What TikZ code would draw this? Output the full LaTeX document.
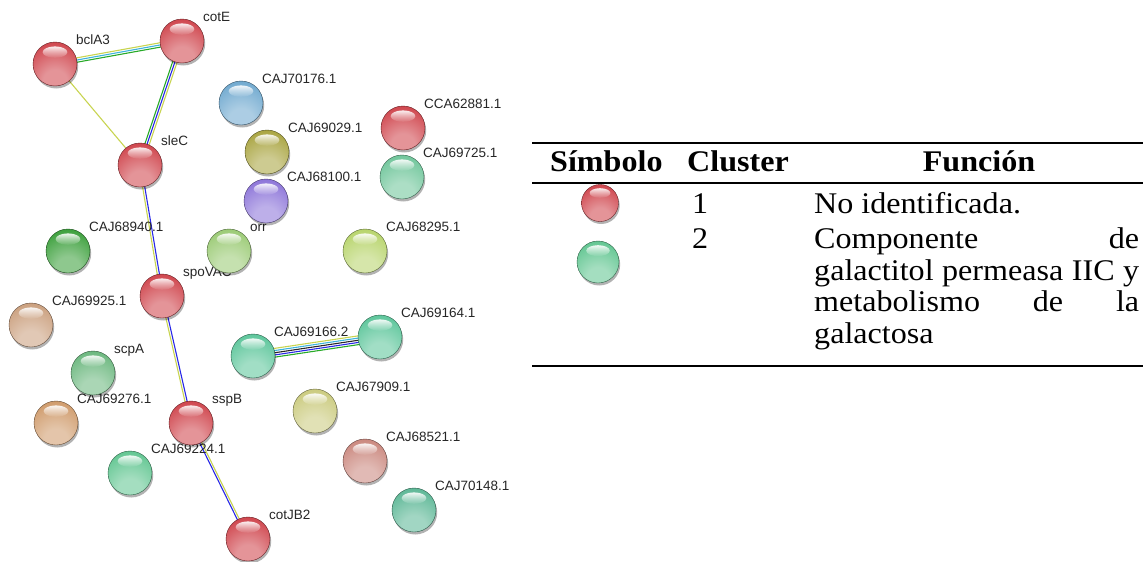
\documentclass[tikz,border=0pt]{standalone}
\usepackage{fontspec}
\setmainfont{Liberation Serif}
\newfontfamily\lblfont{Liberation Sans}
\usetikzlibrary{fadings}
\pgfdeclarelayer{bg}\pgfdeclarelayer{lab}
\pgfsetlayers{bg,lab,main}
\definecolor{cred}{RGB}{205,60,68}
\definecolor{cblue}{RGB}{105,165,205}
\definecolor{colive}{RGB}{165,160,55}
\definecolor{cmint}{RGB}{105,195,150}
\definecolor{cpurple}{RGB}{135,110,215}
\definecolor{cdkgreen}{RGB}{50,155,50}
\definecolor{cltgreen}{RGB}{150,200,110}
\definecolor{cygreen}{RGB}{180,210,100}
\definecolor{ctan}{RGB}{200,155,120}
\definecolor{cgreen}{RGB}{100,180,120}
\definecolor{cteal}{RGB}{85,195,150}
\definecolor{cpale}{RGB}{200,200,120}
\definecolor{corange}{RGB}{205,150,100}
\definecolor{cpink}{RGB}{200,130,120}
\definecolor{cteal2}{RGB}{90,195,140}
\definecolor{cteal3}{RGB}{85,180,145}
\definecolor{etm}{RGB}{200,212,80}
\definecolor{edb}{RGB}{60,180,220}
\definecolor{enb}{RGB}{40,170,40}
\definecolor{ebl}{RGB}{40,40,230}
\definecolor{ebk}{RGB}{40,40,40}
\colorlet{bhi}{white}\colorlet{bmid}{gray}\colorlet{blo}{black}
\pgfdeclareradialshading[bhi,bmid,blo]{sball}{\pgfpoint{0bp}{-24bp}}{%
 color(0bp)=(bhi); color(14bp)=(bhi); color(42bp)=(bmid); color(64bp)=(blo); color(90bp)=(blo)}
\tikzset{
 ballnode/.style={circle, minimum size=44pt, inner sep=0pt,
   draw=#1!50!black, line width=0.4pt,
   preaction={fill=black, fill opacity=0.3, transform canvas={xshift=1.2pt,yshift=-2.5pt}},
   path picture={
     \colorlet{bhi}{#1!55!white}\colorlet{bmid}{#1}\colorlet{blo}{#1!70!black}
     \shade[shading=sball] (path picture bounding box.south west) rectangle (path picture bounding box.north east);
     \fill[white, fill opacity=0.9, path fading=south]
       ([yshift=0.27*\pgfkeysvalueof{/pgf/minimum height}]path picture bounding box.center)
       ellipse ({0.28*\pgfkeysvalueof{/pgf/minimum width}} and {0.13*\pgfkeysvalueof{/pgf/minimum height}});
   }},
 lab/.style={font=\lblfont\fontsize{13.5}{16}\selectfont, anchor=base west, inner sep=0pt, text=black!85},
 edge/.style={line width=1.1pt},
 tab/.style={font=\fontsize{30}{31}\selectfont, anchor=base west, inner sep=0pt},
 tabh/.style={font=\fontsize{30}{31}\selectfont\bfseries, anchor=base west, inner sep=0pt},
 rulethick/.style={line width=2pt},
 rulethin/.style={line width=1.3pt},
}
\newcommand{\sx}[1]{\scalebox{1.07}[1]{#1}}
\begin{document}
\begin{tikzpicture}[x=1pt,y=-1pt]
\useasboundingbox (0,0) rectangle (1143,562);
% network nodes
\node[ballnode=cred] (bclA3) at (55,64) {};
\node[ballnode=cred] (cotE) at (182,41) {};
\node[ballnode=cblue] (n70176) at (241,103) {};
\node[ballnode=cred] (n62881) at (403,128) {};
\node[ballnode=colive] (n69029) at (267,152) {};
\node[ballnode=cmint] (n69725) at (402,177) {};
\node[ballnode=cred] (sleC) at (140,165) {};
\node[ballnode=cpurple] (n68100) at (266,201) {};
\node[ballnode=cdkgreen] (n68940) at (68,251) {};
\node[ballnode=cltgreen] (orr) at (229,251) {};
\node[ballnode=cygreen] (n68295) at (365,251) {};
\node[ballnode=cred] (spoVAC) at (162,296) {};
\node[ballnode=ctan] (n69925) at (31,325) {};
\node[ballnode=cgreen] (scpA) at (93,373) {};
\node[ballnode=cteal] (n69166) at (253,356) {};
\node[ballnode=cteal] (n69164) at (380,337) {};
\node[ballnode=cpale] (n67909) at (315,411) {};
\node[ballnode=corange] (n69276) at (56,423) {};
\node[ballnode=cred] (sspB) at (191,423) {};
\node[ballnode=cpink] (n68521) at (365,461) {};
\node[ballnode=cteal2] (n69224) at (130,473) {};
\node[ballnode=cteal3] (n70148) at (414,510) {};
\node[ballnode=cred] (cotJB2) at (248,539) {};
% labels
\begin{pgfonlayer}{lab}
\foreach \n/\t in {bclA3/bclA3, cotE/cotE, n70176/CAJ70176.1, n62881/CCA62881.1,
  n69029/CAJ69029.1, n69725/CAJ69725.1, sleC/sleC, n68100/CAJ68100.1,
  n68940/CAJ68940.1, orr/orr, n68295/CAJ68295.1, spoVAC/spoVAC,
  n69925/CAJ69925.1, scpA/scpA, n69166/CAJ69166.2, n69164/CAJ69164.1,
  n67909/CAJ67909.1, n69276/CAJ69276.1, sspB/sspB, n68521/CAJ68521.1,
  n69224/CAJ69224.1, n70148/CAJ70148.1, cotJB2/cotJB2}
  \node[lab] (l-\n) at ([shift={(21,-20)}]\n.center) {\t};
\end{pgfonlayer}
% edges
\begin{pgfonlayer}{bg}
\draw[edge, etm, transform canvas={yshift=2.2pt}] (bclA3.center) -- (cotE.center);
\draw[edge, edb] (bclA3.center) -- (cotE.center);
\draw[edge, enb, transform canvas={yshift=-2.2pt}] (bclA3.center) -- (cotE.center);
\draw[edge, etm] (bclA3.center) -- (sleC.center);
\draw[edge, enb, transform canvas={xshift=-2.3pt}] (cotE.center) -- (sleC.center);
\draw[edge, ebl] (cotE.center) -- (sleC.center);
\draw[edge, etm, transform canvas={xshift=2.3pt}] (cotE.center) -- (sleC.center);
\draw[edge, etm, transform canvas={xshift=-1.1pt}] (sleC.center) -- (spoVAC.center);
\draw[edge, ebl, transform canvas={xshift=1.1pt}] (sleC.center) -- (spoVAC.center);
\draw[edge, etm, transform canvas={xshift=-1.1pt}] (spoVAC.center) -- (sspB.center);
\draw[edge, ebl, transform canvas={xshift=1.1pt}] (spoVAC.center) -- (sspB.center);
\draw[edge, ebl, transform canvas={xshift=-1.1pt}] (sspB.center) -- (cotJB2.center);
\draw[edge, etm, transform canvas={xshift=1.1pt}] (sspB.center) -- (cotJB2.center);
\draw[edge, etm, transform canvas={yshift=4.4pt}] (n69166.center) -- (n69164.center);
\draw[edge, edb, transform canvas={yshift=2.2pt}] (n69166.center) -- (n69164.center);
\draw[edge, ebk] (n69166.center) -- (n69164.center);
\draw[edge, ebl, transform canvas={yshift=-2.2pt}] (n69166.center) -- (n69164.center);
\draw[edge, enb, transform canvas={yshift=-4.4pt}] (n69166.center) -- (n69164.center);
\end{pgfonlayer}
% table
\coordinate (rt0) at (532,143); \coordinate (rt1) at (1143,143);
\coordinate (rm0) at (532,183); \coordinate (rm1) at (1143,183);
\coordinate (rb0) at (532,366); \coordinate (rb1) at (1143,366);
\draw[rulethick] (rt0) -- (rt1);
\draw[rulethin] (rm0) -- (rm1);
\draw[rulethick] (rb0) -- (rb1);
\node[tabh] (hsim) at (550,171) {\sx{Símbolo}};
\node[tabh] (hclu) at (687,171) {\sx{Cluster}};
\node[tabh, anchor=base] (hfun) at (979,171) {\sx{Función}};
\node[ballnode=cred, minimum size=37pt] (lg1) at (600,203) {};
\node[ballnode=cteal2, minimum size=42pt] (lg2) at (598,262) {};
\node[tab] (c1) at (692,213) {\sx{1}};
\node[tab] (c2) at (692,248) {\sx{2}};
\node[tab] (f1) at (814,213) {\sx{No identificada.}};
\node[tab] (f2a) at (814,248) {\sx{\makebox[303.7pt][s]{Componente de}}};
\node[tab] (f2b) at (814,280) {\sx{\makebox[303.7pt][s]{galactitol permeasa IIC y}}};
\node[tab] (f2c) at (814,311) {\sx{\makebox[303.7pt][s]{metabolismo de la}}};
\node[tab] (f2d) at (814,343) {\sx{galactosa}};
\end{tikzpicture}
\end{document}
